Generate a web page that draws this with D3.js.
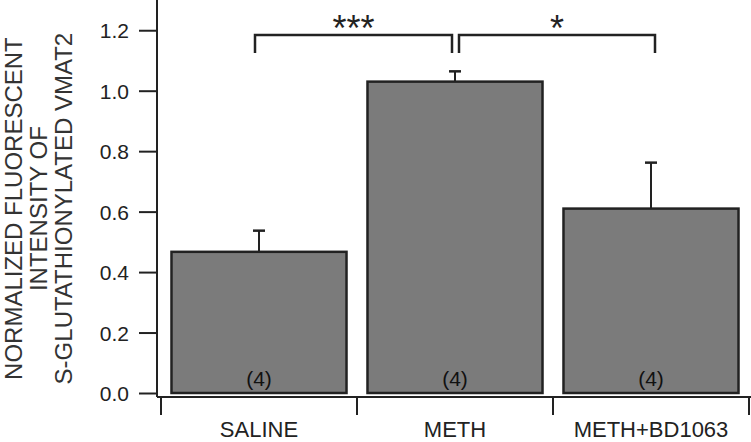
<!DOCTYPE html>
<html>
<head>
<meta charset="utf-8">
<script src="https://cdn.jsdelivr.net/npm/d3@7"></script>
<style>
  html, body { margin: 0; padding: 0; background: #fff; }
  svg { display: block; font-family: "Liberation Sans", Arial, sans-serif; }
</style>
</head>
<body>
<div id="chart"></div>
<script>
// ── Data ──────────────────────────────────────────────────────────────────────
const categories = ["SALINE", "METH", "METH+BD1063"];
const means = [0.467, 1.03, 0.61];
const errors = [0.07, 0.034, 0.152];
const counts = ["(4)", "(4)", "(4)"];
const yTicks = [0, 0.2, 0.4, 0.6, 0.8, 1.0, 1.2];
const titleLines = ["NORMALIZED FLUORESCENT", "INTENSITY OF", "S-GLUTATHIONYLATED VMAT2"];
const comparisons = [
  { from: "SALINE", to: "METH", label: "***" },
  { from: "METH", to: "METH+BD1063", label: "*" },
];

const width = 751;
const height = 442;
const ink = "#222";

const svg = d3.select("#chart").append("svg")
  .attr("width", width).attr("height", height)
  .attr("viewBox", [0, 0, width, height]);

const y = d3.scaleLinear().domain([0, 1.3]).range([393, 0]);
const x = d3.scaleBand().domain(categories).range([161, 749])
  .paddingInner(0.107).paddingOuter(0.0535);
const step = x.step();

// ── Y axis ────────────────────────────────────────────────────────────────────
const yAxis = svg.append("g").attr("transform", "translate(157,0)")
  .call(d3.axisLeft(y).tickValues(yTicks).tickSize(18).tickSizeOuter(0)
    .tickFormat(d3.format(".1f")));
yAxis.select(".domain").remove();
yAxis.selectAll(".tick line").attr("stroke", ink).attr("stroke-width", 2);
yAxis.selectAll(".tick text").attr("x", -28).attr("dy", "0.36em")
  .attr("font-size", "21px").attr("fill", ink).attr("font-family", "Liberation Sans, Arial, sans-serif");

svg.append("line")
  .attr("x1", 157).attr("x2", 157).attr("y1", 0).attr("y2", y(0) + 4)
  .attr("stroke", ink).attr("stroke-width", 2);

// Axis title.
const title = svg.append("text")
  .attr("transform", `translate(39,${y(0.61)}) rotate(-90)`)
  .attr("text-anchor", "middle").attr("font-size", "24px").attr("fill", "#333");
titleLines.forEach((t, i) => {
  title.append("tspan").attr("x", 0).attr("y", (i - 1) * 25 + 8).text(t);
});

// ── X axis ────────────────────────────────────────────────────────────────────
const xLineY = y(0) + 4;
svg.append("line")
  .attr("x1", 157).attr("x2", 751).attr("y1", xLineY).attr("y2", xLineY)
  .attr("stroke", ink).attr("stroke-width", 2);

const bounds = categories.map((c) => x(c) - step * x.paddingInner() / 2)
  .concat([x(categories[categories.length - 1]) + x.bandwidth() + step * x.paddingInner() / 2]);
svg.append("g").selectAll("line").data(bounds).join("line")
  .attr("x1", (d) => d).attr("x2", (d) => d)
  .attr("y1", xLineY).attr("y2", xLineY + 18)
  .attr("stroke", ink).attr("stroke-width", 2);

svg.append("g").selectAll("text").data(categories).join("text")
  .attr("x", (d) => x(d) + x.bandwidth() / 2)
  .attr("y", 437)
  .attr("text-anchor", "middle").attr("font-size", "22px").attr("fill", ink)
  .text((d) => d);

// ── Bars ──────────────────────────────────────────────────────────────────────
const rows = categories.map((c, i) => ({ cat: c, mean: means[i], err: errors[i], n: counts[i] }));

// Error bars (drawn first so the bar outline covers the joint).
const eb = svg.append("g").selectAll("g").data(rows).join("g");
eb.append("line")
  .attr("x1", (d) => x(d.cat) + x.bandwidth() / 2).attr("x2", (d) => x(d.cat) + x.bandwidth() / 2)
  .attr("y1", (d) => y(d.mean)).attr("y2", (d) => y(d.mean + d.err))
  .attr("stroke", ink).attr("stroke-width", 2);
eb.append("line")
  .attr("x1", (d) => x(d.cat) + x.bandwidth() / 2 - 6).attr("x2", (d) => x(d.cat) + x.bandwidth() / 2 + 6)
  .attr("y1", (d) => y(d.mean + d.err)).attr("y2", (d) => y(d.mean + d.err))
  .attr("stroke", ink).attr("stroke-width", 2.5);

svg.append("g").selectAll("rect").data(rows).join("rect")
  .attr("x", (d) => x(d.cat)).attr("width", x.bandwidth())
  .attr("y", (d) => y(d.mean)).attr("height", (d) => y(0) - y(d.mean))
  .attr("fill", "#7b7b7b").attr("stroke", ink).attr("stroke-width", 2.5);

svg.append("g").selectAll("text").data(rows).join("text")
  .attr("x", (d) => x(d.cat) + x.bandwidth() / 2)
  .attr("y", y(0) - 7)
  .attr("text-anchor", "middle").attr("font-size", "21px").attr("fill", "#111")
  .text((d) => d.n);

// ── Significance brackets ─────────────────────────────────────────────────────
const bracketY = 35;
const bracketDrop = 18;
comparisons.forEach((c, i) => {
  const x1 = x(c.from) + x.bandwidth() / 2 + (i === 0 ? -4 : 4);
  const x2 = x(c.to) + x.bandwidth() / 2 + (i === 0 ? -3 : 4);
  svg.append("path")
    .attr("d", `M${x1},${bracketY + bracketDrop}V${bracketY}H${x2}V${bracketY + bracketDrop}`)
    .attr("fill", "none").attr("stroke", ink).attr("stroke-width", 2.5);
  svg.append("text")
    .attr("x", (x1 + x2) / 2).attr("y", bracketY + 6)
    .attr("text-anchor", "middle").attr("font-size", "36px").attr("fill", ink)
    .text(c.label);
});
</script>
</body>
</html>
